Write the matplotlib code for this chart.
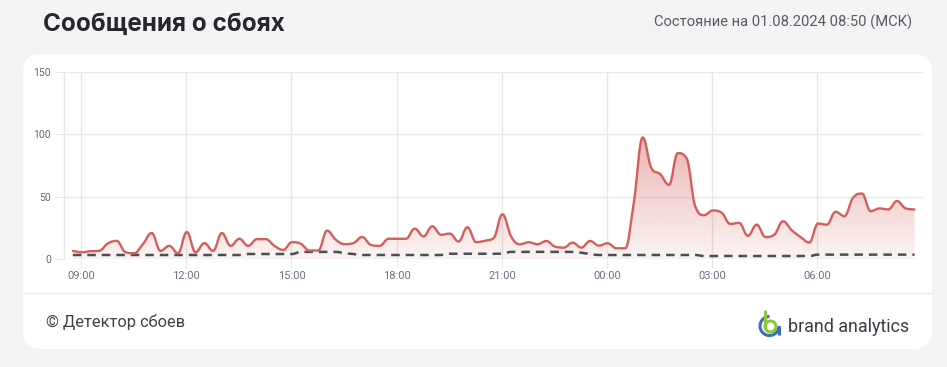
#!/usr/bin/env python3
""" Failure reports chart (Детектор сбоев style).
"""
import matplotlib
matplotlib.use('Agg')
import numpy as np
import matplotlib.pyplot as plt
from matplotlib.path import Path
from matplotlib.patches import PathPatch, FancyBboxPatch, Arc, Circle

# data: 15-minute samples starting 08:46
START_HOUR = 8 + 46 / 60
STEP_HOUR = 0.25

failures = [6.5, 5.4, 6.2, 6.5, 12.5, 14.5, 5.5, 4.6, 12.0, 20.8,
            6.5, 10.5, 4.6, 21.6, 5.4, 12.7, 6.5, 20.8, 10.5, 16.2,
            10.5, 15.9, 15.9, 10.5, 7.3, 13.5, 12.2, 6.8, 6.8, 22.7,
            15.4, 11.9, 12.7, 17.6, 11.3, 10.5, 16.2, 16.2, 16.2, 24.3,
            18.1, 26.2, 19.4, 20.3, 14.0, 25.4, 13.5, 14.6, 16.8, 35.8,
            17.9, 11.8, 13.4, 11.8, 14.4, 9.9, 9.1, 13.1, 9.1, 14.4,
            10.7, 12.6, 8.6, 8.6, 46.0, 97.3, 72.7, 67.9, 59.4, 84.8,
            80.8, 42.0, 35.1, 38.9, 37.0, 28.1, 28.9, 18.6, 27.5, 17.6,
            19.4, 30.2, 23.0, 17.6, 13.2, 28.4, 27.5, 37.8, 34.3, 49.1,
            52.4, 38.3, 40.5, 39.7, 46.4, 40.5, 39.7]

normal = [3.2, 3.2, 3.2, 3.2, 3.2, 3.2, 3.2, 3.2, 3.2, 3.2,
          3.2, 3.2, 3.2, 3.2, 3.2, 3.2, 3.2, 3.2, 3.2, 3.2,
          4.0, 4.0, 4.0, 4.0, 4.0, 4.0, 5.7, 5.7, 5.7, 5.7,
          5.7, 4.6, 4.0, 3.2, 3.2, 3.2, 3.2, 3.2, 3.2, 3.2,
          3.2, 3.2, 3.2, 4.2, 4.2, 4.2, 4.2, 4.2, 4.2, 4.2,
          5.7, 5.7, 5.7, 5.7, 5.7, 5.7, 5.7, 5.7, 5.0, 4.0,
          3.2, 3.2, 3.2, 3.2, 3.2, 3.2, 3.2, 3.2, 3.2, 3.2,
          3.2, 3.2, 2.4, 2.4, 2.4, 2.4, 2.4, 2.4, 2.4, 2.4,
          2.4, 2.4, 2.4, 2.4, 2.4, 3.5, 3.5, 3.5, 3.5, 3.5,
          3.5, 3.5, 3.5, 3.5, 3.5, 3.5, 3.5]

tick_hours = [9, 12, 15, 18, 21, 24, 27, 30]
tick_labels = ['09:00', '12:00', '15:00', '18:00', '21:00', '00:00', '03:00', '06:00']
y_ticks = [0, 50, 100, 150]

TITLE = 'Сообщения о сбоях'
STATUS = 'Состояние на 01.08.2024 08:50 (МСК)'
FOOTER = '© Детектор сбоев'
BRAND = 'brand analytics'

RED = '#d35f5b'
DARK = '#4a4e59'
GRID = '#e8e8e8'
W, H = 947, 367


def spline(xs, ys, smoothing=1.5):
    """Bezier path through the points, Highcharts 'spline' style."""
    n = len(xs)
    denom = smoothing + 1
    left = [(xs[0], ys[0])] * n
    right = [(xs[0], ys[0])] * n
    for i in range(n):
        x, y = xs[i], ys[i]
        if i == 0 or i == n - 1:
            left[i] = right[i] = (x, y)
            continue
        lx, ly = xs[i - 1], ys[i - 1]
        nx, ny = xs[i + 1], ys[i + 1]
        lcx = (smoothing * x + lx) / denom
        lcy = (smoothing * y + ly) / denom
        rcx = (smoothing * x + nx) / denom
        rcy = (smoothing * y + ny) / denom
        corr = (rcy - lcy) * (rcx - x) / (rcx - lcx) + y - rcy
        lcy += corr
        rcy += corr
        if lcy > ly and lcy > y:
            lcy = max(ly, y); rcy = 2 * y - lcy
        elif lcy < ly and lcy < y:
            lcy = min(ly, y); rcy = 2 * y - lcy
        if rcy > ny and rcy > y:
            rcy = max(ny, y); lcy = 2 * y - rcy
        elif rcy < ny and rcy < y:
            rcy = min(ny, y); lcy = 2 * y - rcy
        left[i] = (lcx, lcy)
        right[i] = (rcx, rcy)
    verts = [(xs[0], ys[0])]
    codes = [Path.MOVETO]
    for i in range(1, n):
        verts += [right[i - 1], left[i], (xs[i], ys[i])]
        codes += [Path.CURVE4] * 3
    return verts, codes


hours = START_HOUR + STEP_HOUR * np.arange(len(failures))

fig = plt.figure(figsize=(W / 100, H / 100), dpi=100)
fig.patch.set_facecolor('#f4f4f4')

# background layer in pixel coordinates
bg = fig.add_axes([0, 0, 1, 1], zorder=0)
bg.set_xlim(0, W)
bg.set_ylim(H, 0)
bg.axis('off')
bg.add_patch(FancyBboxPatch((23, 54), 909, 295,
                            boxstyle='round,pad=0,rounding_size=18',
                            fc='white', ec='none'))
bg.plot([23, 932], [293, 293], color='#ececec', lw=1)

bg.text(43, 31, TITLE, fontsize=17.5, fontweight='bold', color='#262630',
        family=['Inter', 'DejaVu Sans'], va='baseline', ha='left')
bg.text(912, 27, STATUS, fontsize=10.6, color='#555a64',
        family=['Roboto', 'DejaVu Sans'], va='baseline', ha='right')
bg.text(46, 327, FOOTER, fontsize=11.8, color='#3f4048',
        family=['Roboto', 'DejaVu Sans'], va='baseline', ha='left')
bg.text(788, 331.5, BRAND, fontsize=12.9, color='#3a3b45',
        family=['Roboto', 'DejaVu Sans'], va='baseline', ha='left')

# logo mark
bg.add_patch(Arc((769.5, 326), 19, 19, theta1=0, theta2=270,
                 color='#3b6cc0', lw=2.2))
bg.plot([779, 779], [326, 335], color='#3b6cc0', lw=2.2, solid_capstyle='butt')
bg.plot([764.5, 764.5], [310, 327], color='#8dc63f', lw=2.2, solid_capstyle='butt')
bg.add_patch(Circle((770.5, 326.5), 5.5, fill=False, ec='#8dc63f', lw=2.2))

# chart
left_px, right_px, top_px, bot_px = 64.3, 922.7, 71.7, 259.0
ax = fig.add_axes([left_px / W, 1 - bot_px / H,
                   (right_px - left_px) / W, (bot_px - top_px) / H], zorder=1)
ax.set_facecolor('none')
x_min = 9 - (81 - left_px) / 35.07
x_max = 9 + (right_px - 81) / 35.07

for s in ['top', 'right', 'bottom']:
    ax.spines[s].set_visible(False)
ax.spines['left'].set_color(GRID)
ax.spines['left'].set_linewidth(1)

ax.set_yticks(y_ticks)
ax.set_yticklabels([str(v) for v in y_ticks])
ax.set_xticks(tick_hours)
ax.set_xticklabels(tick_labels)
ax.grid(True, color=GRID, lw=1)
ax.set_axisbelow(True)
ax.tick_params(axis='y', length=6.5, width=0.75, color=GRID, pad=3,
               labelsize=7.5, labelcolor='#666666')
ax.tick_params(axis='x', length=6.5, width=0.75, color=GRID, pad=2,
               labelsize=8, labelcolor='#6b7282')
for lab in ax.get_xticklabels() + ax.get_yticklabels():
    lab.set_family(['Roboto', 'DejaVu Sans'])

verts, codes = spline(list(hours), failures)
fill_verts = verts + [(hours[-1], 0), (hours[0], 0), (hours[0], 0)]
fill_codes = codes + [Path.LINETO, Path.LINETO, Path.CLOSEPOLY]
clip = PathPatch(Path(fill_verts, fill_codes), transform=ax.transData,
                 fc='none', ec='none')
ax.add_patch(clip)

rgb = matplotlib.colors.to_rgb(RED)
alpha = np.linspace(0.07, 0.46, 256)
grad = np.zeros((256, 1, 4))
grad[:, 0, :3] = rgb
grad[:, 0, 3] = alpha
img = ax.imshow(grad, extent=[hours[0], hours[-1], 0, max(failures)],
                origin='lower', aspect='auto', zorder=2, interpolation='bilinear')
img.set_clip_path(clip)

ax.add_patch(PathPatch(Path(verts, codes), fc='none', ec=RED, lw=1.7,
                       zorder=4, capstyle='round', joinstyle='round'))

nverts, ncodes = spline(list(hours), normal)
ax.add_patch(PathPatch(Path(nverts, ncodes), fc='none', ec=DARK, lw=1.8,
                       linestyle=(0, (3.4, 2.4)), zorder=3))

ax.set_xlim(x_min, x_max)
ax.set_ylim(0, 150)

plt.savefig('out.png', dpi=100, facecolor=fig.get_facecolor())
